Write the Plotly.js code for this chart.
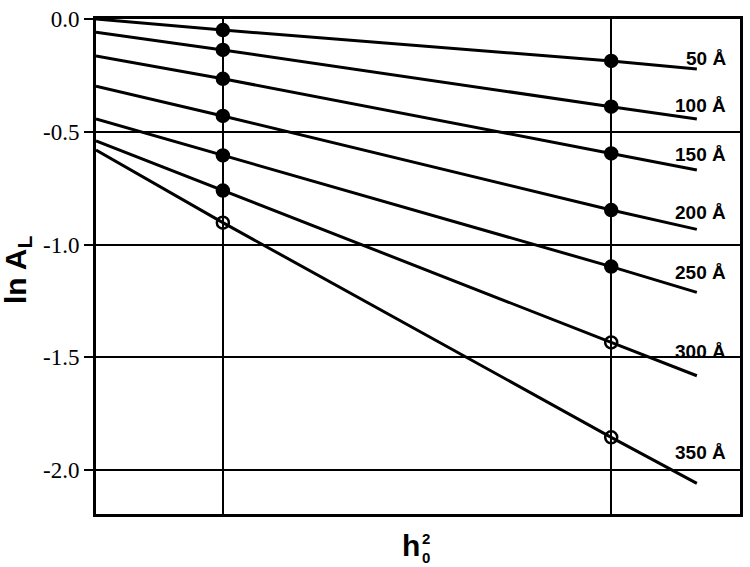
<!DOCTYPE html>
<html>
<head>
<meta charset="utf-8">
<script src="https://cdn.plot.ly/plotly-3.0.1.min.js"></script>
<style>html,body{margin:0;padding:0;background:#fff;}#chart{width:750px;height:567px;}</style>
</head>
<body>
<div id="chart"></div>
<script>
// h0^2 positions (arbitrary units): line start, first measurement, second measurement, line end
const xPos = [0, 0.197, 0.8, 0.933];
const labels = ['50 Å', '100 Å', '150 Å', '200 Å', '250 Å', '300 Å', '350 Å'];
const s50  = [0.000, -0.049, -0.186, -0.222];
const s100 = [-0.059, -0.137, -0.389, -0.443];
const s150 = [-0.164, -0.265, -0.596, -0.670];
const s200 = [-0.298, -0.430, -0.847, -0.933];
const s250 = [-0.443, -0.605, -1.098, -1.212];
const s300 = [-0.540, -0.761, -1.434, -1.582];
const s350 = [-0.581, -0.903, -1.855, -2.059];
const series = [s50, s100, s150, s200, s250, s300, s350];
// marker style per series at the two measured points (open = hollow circle)
const openFlags = [
  [false, false], [false, false], [false, false], [false, false],
  [false, false], [false, true], [true, true]
];
const yTicks = [0, -0.5, -1.0, -1.5, -2.0];
const yTickText = ['0.0', '-0.5', '-1.0', '-1.5', '-2.0'];

const SANS = "'Liberation Sans', Arial, sans-serif";
const SERIF = "'Liberation Serif', 'Times New Roman', serif";

const traces = series.map((ys, i) => ({
  x: xPos, y: ys, type: 'scatter', mode: 'lines+markers',
  line: {color: '#000', width: 3},
  marker: {
    size: [0, 12, 12, 0],
    color: '#000', opacity: 1,
    symbol: ['circle', openFlags[i][0] ? 'circle-open' : 'circle', openFlags[i][1] ? 'circle-open' : 'circle', 'circle'],
    line: {color: '#000', width: 2.5}
  },
  hoverinfo: 'skip', showlegend: false
}));

const annotations = series.map((ys, i) => {
  const n = ys.length;
  const slope = (ys[n-1] - ys[n-2]) / (xPos[n-1] - xPos[n-2]);
  return {
    x: 0.982, y: ys[n-1] + 0.03 + 0.07 * Math.abs(slope),
    xref: 'x', yref: 'y', xanchor: 'right', yanchor: 'middle',
    text: labels[i], showarrow: false,
    font: {family: SANS, size: 19, color: '#000', weight: 'bold'}
  };
});
// y-axis title
annotations.push({
  x: -0.121, y: 0.493, xref: 'paper', yref: 'paper', textangle: -90,
  text: 'ln A<sub>L</sub>', showarrow: false, xanchor: 'center', yanchor: 'middle',
  font: {family: SANS, size: 30, color: '#000', weight: 'bold'}
});
// x-axis title: h with stacked super 2 and sub 0
annotations.push({
  x: 0.489, y: -0.063, xref: 'paper', yref: 'paper', text: 'h', showarrow: false,
  xanchor: 'center', yanchor: 'middle',
  font: {family: SANS, size: 30, color: '#000', weight: 'bold'}
});
annotations.push({
  x: 0.513, y: -0.050, xref: 'paper', yref: 'paper', text: '2', showarrow: false,
  xanchor: 'center', yanchor: 'middle',
  font: {family: SANS, size: 15, color: '#000', weight: 'bold'}
});
annotations.push({
  x: 0.513, y: -0.087, xref: 'paper', yref: 'paper', text: '0', showarrow: false,
  xanchor: 'center', yanchor: 'middle',
  font: {family: SANS, size: 15, color: '#000', weight: 'bold'}
});

const layout = {
  width: 750, height: 567,
  margin: {l: 96, r: 10, t: 19, b: 53},
  paper_bgcolor: '#fff', plot_bgcolor: '#fff',
  xaxis: {
    range: [0, 1], tickvals: [xPos[1], xPos[2]], ticktext: ['', ''], showticklabels: false,
    ticks: '', showgrid: true, gridcolor: '#000', gridwidth: 2,
    zeroline: false, showline: true, linecolor: '#000', linewidth: 3, mirror: true
  },
  yaxis: {
    range: [-2.195, 0], tickvals: yTicks, ticktext: yTickText,
    ticks: 'outside', ticklen: 9, tickwidth: 2, tickcolor: '#000',
    showgrid: true, gridcolor: '#000', gridwidth: 2,
    zeroline: false, showline: true, linecolor: '#000', linewidth: 3, mirror: true,
    tickfont: {family: SERIF, size: 23, color: '#000'}
  },
  annotations: annotations
};
Plotly.newPlot('chart', traces, layout, {staticPlot: true, displayModeBar: false});
</script>
</body>
</html>
